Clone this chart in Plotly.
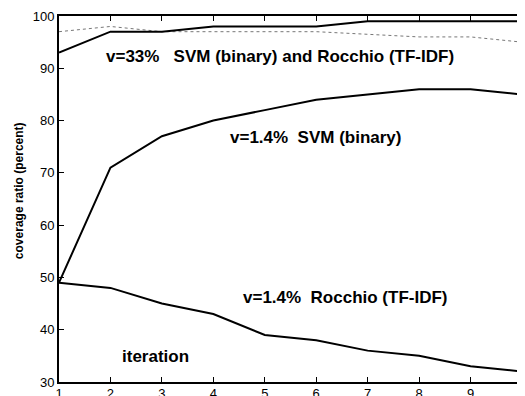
import plotly.graph_objects as go

iterations = [1, 2, 3, 4, 5, 6, 7, 8, 9, 10]
svm_33 = [93, 97, 97, 98, 98, 98, 99, 99, 99, 99]
rocchio_33 = [97, 98, 97, 97, 97, 97, 96.5, 96, 96, 95]
svm_14 = [49, 71, 77, 80, 82, 84, 85, 86, 86, 85]
rocchio_14 = [49, 48, 45, 43, 39, 38, 36, 35, 33, 32]

fig = go.Figure()
fig.add_trace(go.Scatter(x=iterations, y=rocchio_33, mode="lines",
                         line=dict(color="#777777", width=1, dash="dot")))
fig.add_trace(go.Scatter(x=iterations, y=svm_33, mode="lines",
                         line=dict(color="black", width=2)))
fig.add_trace(go.Scatter(x=iterations, y=svm_14, mode="lines",
                         line=dict(color="black", width=2)))
fig.add_trace(go.Scatter(x=iterations, y=rocchio_14, mode="lines",
                         line=dict(color="black", width=2)))

nb = "\u00a0"
FONT = "Liberation Sans, Arial, sans-serif"
afont = dict(family=FONT, size=17, color="black")
annots = [
    dict(x=5.30, y=92.2, text=f"<b>v=33%{nb*3}SVM (binary) and Rocchio (TF-IDF)</b>"),
    dict(x=5.99, y=76.7, text=f"<b>v=1.4%{nb*2}SVM (binary)</b>"),
    dict(x=6.56, y=46.07, text=f"<b>v=1.4%{nb*2}Rocchio (TF-IDF)</b>"),
    dict(x=2.87, y=34.8, text="<b>iteration</b>"),
]
for a in annots:
    fig.add_annotation(xref="x", yref="y", showarrow=False, font=afont,
                       xanchor="center", yanchor="middle", **a)
fig.add_annotation(xref="paper", yref="paper", x=-0.086, y=0.522, textangle=-90,
                   showarrow=False, xanchor="center", yanchor="middle",
                   text="<b>coverage ratio (percent)</b>",
                   font=dict(family=FONT, size=12, color="black"))

axis_common = dict(showline=True, linecolor="black", linewidth=2, mirror="ticks",
                   ticks="inside", ticklen=5, tickcolor="black", tickwidth=1,
                   showgrid=False, zeroline=False, automargin=False,
                   tickfont=dict(family=FONT, size=13, color="black"))
fig.update_xaxes(range=[1, 10], tickvals=iterations, ticklabelstandoff=-2, **axis_common)
fig.update_yaxes(range=[30, 100], tickvals=[30, 40, 50, 60, 70, 80, 90, 100], **axis_common)

# page body has an 8px default margin, so the figure is offset by 8px
fig.update_layout(width=517, height=388, showlegend=False,
                  margin=dict(l=51, r=3, t=8, b=14),
                  paper_bgcolor="white", plot_bgcolor="white")
fig.write_html("out.html")
